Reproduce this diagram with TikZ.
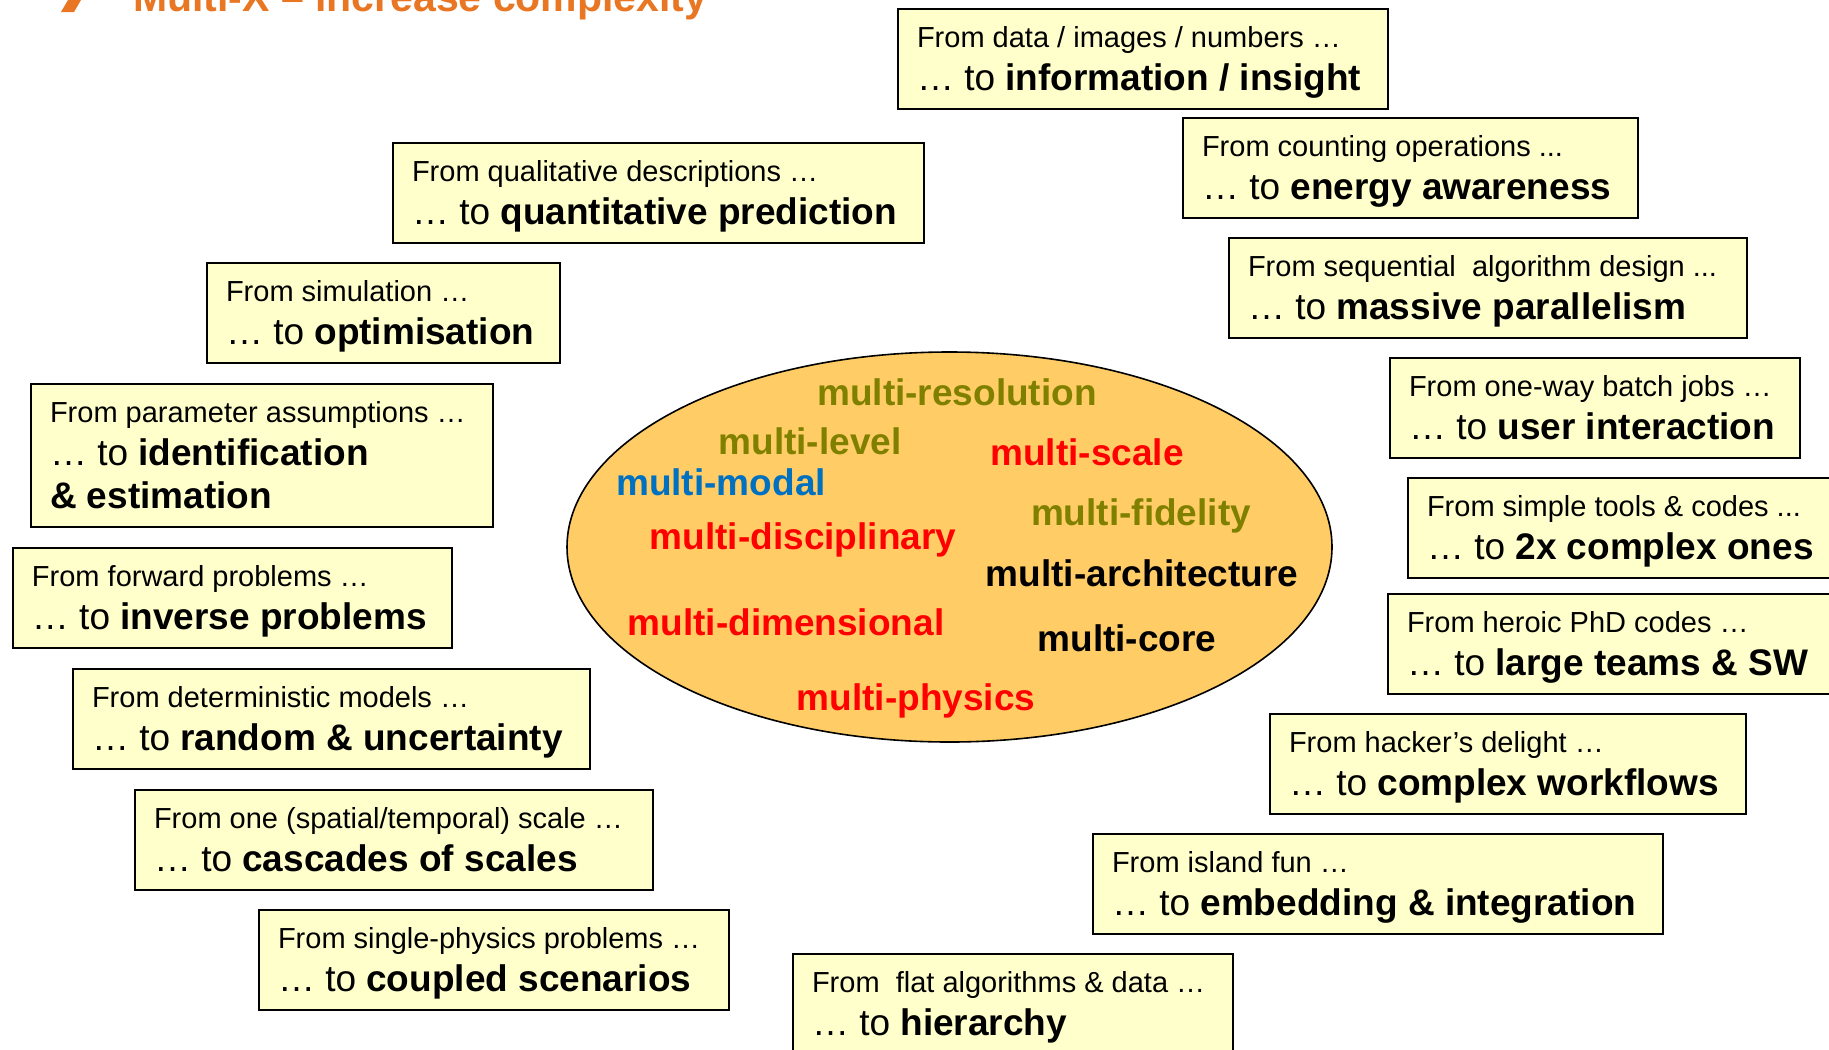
\documentclass[tikz,border=0pt]{standalone}
\usepackage{fontspec}
\setmainfont{Liberation Sans}
\usepackage{tikz}
\usetikzlibrary{shapes.geometric, positioning}

\definecolor{cajafondo}{RGB}{255,255,204}
\definecolor{elipsefondo}{RGB}{255,204,102}
\definecolor{oliva}{RGB}{128,128,0}
\definecolor{azul}{RGB}{0,112,192}
\definecolor{rojo}{RGB}{255,0,0}
\definecolor{naranja}{RGB}{232,118,34}

\newcommand{\desde}[1]{\mbox{\spaceskip=0pt\xspaceskip=0pt\fontsize{14.5}{21.5}\selectfont #1}}
\newcommand{\hasta}[1]{\mbox{\spaceskip=0pt\xspaceskip=0pt … to \textbf{#1}}}

\begin{document}
\begin{tikzpicture}[x=0.5pt, y=-0.5pt,
    caja/.style={draw=black, line width=1pt, fill=cajafondo, anchor=north west,
      align=left, inner xsep=9.5pt, inner ysep=0pt, text height=19pt, text depth=31pt,
      font=\fontsize{18.5}{21.5}\selectfont},
    palabra/.style={anchor=base, font=\fontsize{18.5}{22}\selectfont\bfseries}]

		\useasboundingbox (0,0) rectangle (1829,1049);
		\fill[white] (0,0) rectangle (1829,1049);
		\clip (0,0) rectangle (1829,1049);

		% Titulo
		\fill[naranja] (75,-12) -- (61,-36) -- (74,-36) -- (88,-12) -- (74,12) -- (61,12) -- cycle;
		\node[anchor=base west, text=naranja, font=\fontsize{20.5}{24}\selectfont\bfseries] (titulo) at (126,11) {Multi-X – increase complexity};

		% Elipse
		\node[shape=ellipse, draw, line width=0.8pt, fill=elipsefondo, inner sep=0pt,
		  minimum width=382.5pt, minimum height=195pt] (elipse) at (949.5,547) {};

		\node[palabra, text=oliva] (resolution) at (957,405) {multi-resolution};
		\node[palabra, text=oliva] (level) at (810,454) {multi-level};
		\node[palabra, text=rojo] (scale) at (1087,465) {multi-scale};
		\node[palabra, text=azul] (modal) at (721,495) {multi-modal};
		\node[palabra, text=oliva] (fidelity) at (1141,525) {multi-fidelity};
		\node[palabra, text=rojo] (disciplinary) at (803,549) {multi-disciplinary};
		\node[palabra, text=black] (architecture) at (1142,586) {multi-architecture};
		\node[palabra, text=rojo] (dimensional) at (786,635) {multi-dimensional};
		\node[palabra, text=black] (core) at (1127,651) {multi-core};
		\node[palabra, text=rojo] (physics) at (916,710) {multi-physics};

		% Cajas derecha
		\node[caja, text width=226pt] (insight) at (897,8) {\desde{From data / images / numbers …}\\ \hasta{information / insight}};
		\node[caja, text width=208.5pt] (energy) at (1182,117) {\desde{From counting operations ...}\\ \hasta{energy awareness}};
		\node[caja, text width=240pt] (parallel) at (1228,237) {\desde{From sequential\ \ algorithm design ...}\\ \hasta{massive parallelism}};
		\node[caja, text width=186pt] (user) at (1389,357) {\desde{From one-way batch jobs …}\\ \hasta{user interaction}};
		\node[caja, text width=207.5pt] (complex) at (1407,477) {\desde{From simple tools \& codes ...}\\ \hasta{2x complex ones}};
		\node[caja, text width=217.5pt] (teams) at (1387,593) {\desde{From heroic PhD codes …}\\ \hasta{large teams \& SW}};
		\node[caja, text width=219pt] (workflows) at (1269,713) {\desde{From hacker’s delight …}\\ \hasta{complex workflows}};
		\node[caja, text width=266pt] (embedding) at (1092,833) {\desde{From island fun …}\\ \hasta{embedding \& integration}};
		\node[caja, text width=201pt] (hierarchy) at (792,953) {\desde{From\ \ flat algorithms \& data …}\\ \hasta{hierarchy}};

		% Cajas izquierda
		\node[caja, text width=246.5pt] (prediction) at (392,142) {\desde{From qualitative descriptions …}\\ \hasta{quantitative prediction}};
		\node[caja, text width=157.5pt] (optimisation) at (206,262) {\desde{From simulation …}\\ \hasta{optimisation}};
		\node[caja, text width=212pt, text depth=52.5pt] (identification) at (30,383) {\desde{From parameter assumptions …}\\ \hasta{identification}\\ \mbox{\spaceskip=0pt\textbf{\& estimation}}};
		\node[caja, text width=200.5pt] (inverse) at (12,547) {\desde{From forward problems …}\\ \hasta{inverse problems}};
		\node[caja, text width=239.5pt] (random) at (72,668) {\desde{From deterministic models …}\\ \hasta{random \& uncertainty}};
		\node[caja, text width=240pt] (cascades) at (134,789) {\desde{From one (spatial/temporal) scale …}\\ \hasta{cascades of scales}};
		\node[caja, text width=216pt] (coupled) at (258,909) {\desde{From single-physics problems …}\\ \hasta{coupled scenarios}};
	\end{tikzpicture}
\end{document}
